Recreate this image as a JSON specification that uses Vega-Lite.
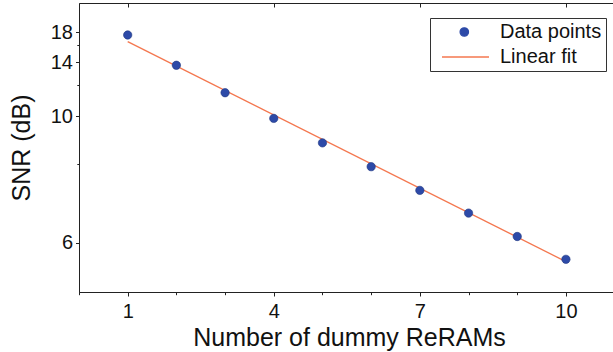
{
  "$schema": "https://vega.github.io/schema/vega-lite/v6.json",
  "autosize": "none",
  "padding": {"left": 79, "top": 3, "right": 0, "bottom": 60},
  "width": 540,
  "height": 289,
  "background": "white",
  "config": {
    "view": {"stroke": "#222", "strokeWidth": 1},
    "font": "Liberation Sans"
  },
  "datasets": {
    "points": [
      {"x": 1, "snr": 17.51, "series": "Data points"},
      {"x": 2, "snr": 13.68, "series": "Data points"},
      {"x": 3, "snr": 11.42, "series": "Data points"},
      {"x": 4, "snr": 9.89, "series": "Data points"},
      {"x": 5, "snr": 8.77, "series": "Data points"},
      {"x": 6, "snr": 7.90, "series": "Data points"},
      {"x": 7, "snr": 7.19, "series": "Data points"},
      {"x": 8, "snr": 6.62, "series": "Data points"},
      {"x": 9, "snr": 6.12, "series": "Data points"},
      {"x": 10, "snr": 5.70, "series": "Data points"}
    ],
    "fit": [
      {"x": 1, "snr": 16.49, "series": "Linear fit"},
      {"x": 10, "snr": 5.661, "series": "Linear fit"}
    ]
  },
  "resolve": {"axis": {"x": "independent"}},
  "layer": [
    {
      "data": {"name": "fit"},
      "mark": {"type": "line", "strokeWidth": 1.3, "clip": true},
      "encoding": {
        "x": {
          "field": "x", "type": "quantitative",
          "scale": {"domain": [0, 11.09], "nice": false, "zero": false},
          "axis": {
            "orient": "top",
            "title": null,
            "values": [1, 4, 7, 10],
            "labels": false,
            "domain": false,
            "grid": false,
            "tickSize": -4,
            "tickColor": "#222"
          }
        },
        "y": {"field": "snr", "type": "quantitative"},
        "color": {
          "field": "series", "type": "nominal",
          "scale": {"domain": ["Data points", "Linear fit"], "range": ["#2D4AA8", "#F4774F"]},
          "legend": {
            "title": null,
            "orient": "none",
            "legendX": 351,
            "legendY": 15,
            "padding": 4,
            "rowPadding": 5,
            "labelFontSize": 20,
            "labelColor": "#111",
            "labelOffset": 46,
            "symbolSize": 16,
            "symbolStrokeWidth": 1.3,
            "strokeColor": "#333",
            "fillColor": "white",
            "encode": {
              "symbols": {
                "update": {
                  "shape": {"signal": "datum.value === 'Linear fit' ? 'M-1,0 L22.5,0' : 'M12.25,0 C12.25,1.16 11.31,2.1 10.15,2.1 C8.99,2.1 8.05,1.16 8.05,0 C8.05,-1.16 8.99,-2.1 10.15,-2.1 C11.31,-2.1 12.25,-1.16 12.25,0 Z'"},
                  "size": {"value": 16},
                  "fill": {"signal": "datum.value === 'Linear fit' ? 'transparent' : '#2D4AA8'"},
                  "stroke": {"signal": "datum.value === 'Linear fit' ? '#F4774F' : '#1F3580'"},
                  "strokeWidth": {"value": 1.3},
                  "opacity": {"value": 1}
                }
              }
            }
          }
        }
      }
    },
    {
      "data": {"name": "points"},
      "mark": {"type": "point", "filled": true, "opacity": 1, "size": 70, "stroke": "#1F3580", "strokeWidth": 0.6},
      "encoding": {
        "x": {
          "field": "x", "type": "quantitative",
          "scale": {"domain": [0, 11.09], "nice": false, "zero": false},
          "axis": {
            "title": "Number of dummy ReRAMs",
            "values": [0, 1, 2, 3, 4, 5, 6, 7, 8, 9, 10, 11],
            "labelExpr": "indexof([1,4,7,10], datum.value) >= 0 ? datum.label : ''",
            "labelOverlap": false,
            "labelFontSize": 20,
            "labelColor": "#111",
            "labelPadding": 5,
            "tickSize": {"condition": {"test": "indexof([1,4,7,10], datum.value) >= 0", "value": 4}, "value": 2.7},
            "tickColor": "#222",
            "domainColor": "#222",
            "grid": false,
            "titleFontSize": 25,
            "titleFontWeight": "normal",
            "titleColor": "#111",
            "titlePadding": 4
          }
        },
        "y": {
          "field": "snr", "type": "quantitative",
          "scale": {"type": "pow", "exponent": -1, "domain": [5.19, 24.85], "nice": false, "zero": false},
          "axis": {
            "title": "SNR (dB)",
            "values": [6, 7, 8, 9, 10, 11, 12, 13, 14, 15, 16, 17, 18],
            "labelExpr": "indexof([6,10,14,18], datum.value) >= 0 ? datum.label : ''",
            "labelOverlap": false,
            "labelFontSize": 20,
            "labelColor": "#111",
            "labelPadding": 3,
            "tickSize": {"condition": {"test": "indexof([6,10,14,18], datum.value) >= 0", "value": 3.5}, "value": 2.2},
            "tickColor": "#222",
            "domainColor": "#222",
            "grid": false,
            "titleFontSize": 25,
            "titleFontWeight": "normal",
            "titleColor": "#111",
            "titlePadding": 16
          }
        },
        "color": {
          "field": "series", "type": "nominal",
          "scale": {"domain": ["Data points", "Linear fit"], "range": ["#2D4AA8", "#F4774F"]},
          "legend": {
            "title": null,
            "orient": "none",
            "legendX": 351,
            "legendY": 15,
            "padding": 4,
            "rowPadding": 5,
            "labelFontSize": 20,
            "labelColor": "#111",
            "labelOffset": 46,
            "symbolSize": 16,
            "symbolStrokeWidth": 1.3,
            "strokeColor": "#333",
            "fillColor": "white",
            "encode": {
              "symbols": {
                "update": {
                  "shape": {"signal": "datum.value === 'Linear fit' ? 'M-1,0 L22.5,0' : 'M12.25,0 C12.25,1.16 11.31,2.1 10.15,2.1 C8.99,2.1 8.05,1.16 8.05,0 C8.05,-1.16 8.99,-2.1 10.15,-2.1 C11.31,-2.1 12.25,-1.16 12.25,0 Z'"},
                  "size": {"value": 16},
                  "fill": {"signal": "datum.value === 'Linear fit' ? 'transparent' : '#2D4AA8'"},
                  "stroke": {"signal": "datum.value === 'Linear fit' ? '#F4774F' : '#1F3580'"},
                  "strokeWidth": {"value": 1.3},
                  "opacity": {"value": 1}
                }
              }
            }
          }
        }
      }
    }
  ]
}
